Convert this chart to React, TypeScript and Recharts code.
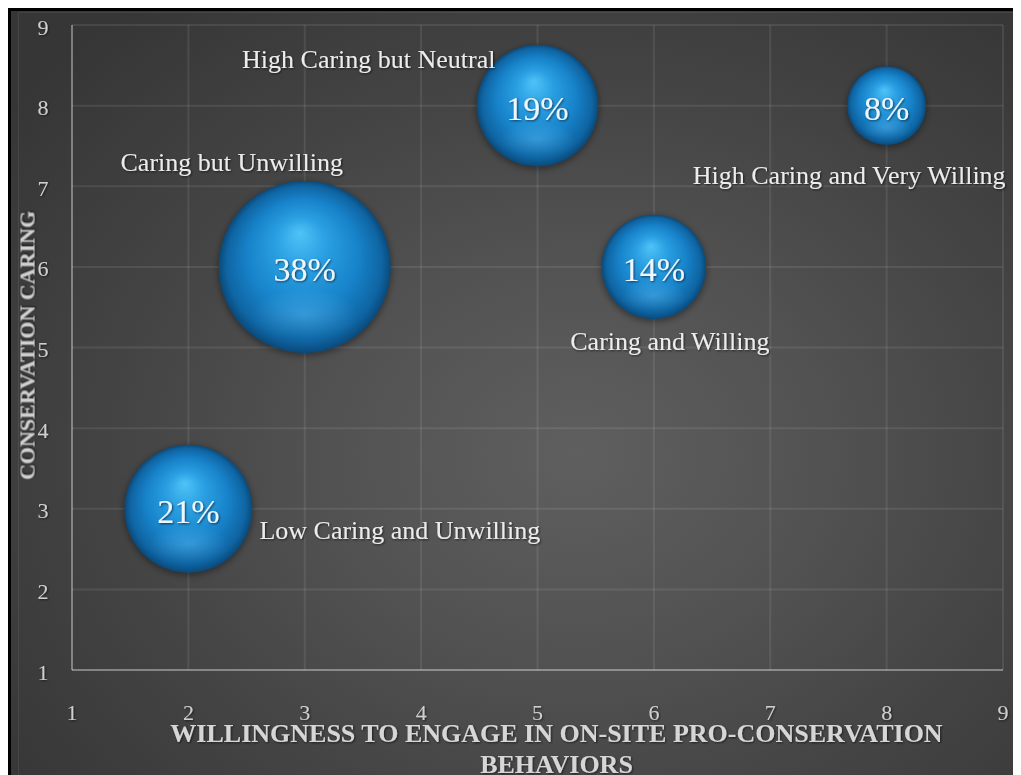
import React from 'react';
import { ScatterChart, Scatter, XAxis, YAxis, ZAxis, CartesianGrid, Label } from 'recharts';

const categories = [
  'Low Caring and Unwilling',
  'Caring but Unwilling',
  'High Caring but Neutral',
  'Caring and Willing',
  'High Caring and Very Willing',
];
const willingness = [2, 3, 5, 6, 8];
const caring = [3, 6, 8, 6, 8];
const shares = [21, 38, 19, 14, 8];
const xTicks = [1, 2, 3, 4, 5, 6, 7, 8, 9];
const yTicks = [1, 2, 3, 4, 5, 6, 7, 8, 9];
const xTitleLines = ['WILLINGNESS TO ENGAGE IN ON-SITE PRO-CONSERVATION', 'BEHAVIORS'];
const yTitle = 'CONSERVATION CARING';

const data = categories.map((name, i) => ({
  name,
  x: willingness[i],
  y: caring[i],
  pct: shares[i],
}));

// label placement (style), keyed by category
const labelPlacement: Record<string, { anchor: 'start' | 'middle' | 'end'; dx: number; dy: number }> = {
  'Low Caring and Unwilling': { anchor: 'start', dx: 71, dy: 22 },
  'Caring but Unwilling': { anchor: 'middle', dx: -73, dy: -104 },
  'High Caring but Neutral': { anchor: 'end', dx: -42, dy: -46 },
  'Caring and Willing': { anchor: 'middle', dx: 16, dy: 75 },
  'High Caring and Very Willing': { anchor: 'end', dx: 119, dy: 70 },
};

const SERIF = '"Liberation Serif", "Times New Roman", serif';
const MAX_R = 86;

const Bubble = (props: any) => {
  const { cx, cy, payload } = props;
  if (cx == null || cy == null) return null;
  const r = props.width ? props.width / 2 : Math.sqrt(Math.max(props.size || 0, 0) / Math.PI);
  const place = labelPlacement[payload.name];
  return (
    <g>
      <circle cx={cx} cy={cy + 2} r={r + 1} fill="rgba(0,0,0,0.35)" filter="url(#blurShadow)" />
      <circle cx={cx} cy={cy} r={r} fill="url(#sphereGrad)" />
      <ellipse cx={cx} cy={cy + r * 0.55} rx={r * 0.62} ry={r * 0.3} fill="url(#reflectGrad)" />
      <text
        x={cx}
        y={cy + 3}
        textAnchor="middle"
        dominantBaseline="central"
        fontFamily={SERIF}
        fontSize={34}
        fill="#eef6ff"
        filter="url(#textShadow)"
      >
        {payload.pct}%
      </text>
      {place && (
        <text
          x={cx + place.dx}
          y={cy + place.dy}
          textAnchor={place.anchor}
          dominantBaseline="central"
          fontFamily={SERIF}
          fontSize={26}
          fill="#ececec"
          filter="url(#textShadow)"
        >
          {payload.name}
        </text>
      )}
    </g>
  );
};

const XTick = (props: any) => {
  const { x, y, payload } = props;
  return (
    <text x={x} y={y + 34} textAnchor="middle" dominantBaseline="central" fontFamily={SERIF} fontSize={22} fill="#cfcfcf" filter="url(#textShadow)">
      {payload.value}
    </text>
  );
};

const YTick = (props: any) => {
  const { x, y, payload } = props;
  return (
    <text x={x - 21} y={y + 2} textAnchor="middle" dominantBaseline="central" fontFamily={SERIF} fontSize={22} fill="#cfcfcf" filter="url(#textShadow)">
      {payload.value}
    </text>
  );
};

const XTitle = (props: any) => {
  const vb = props.viewBox || { x: 61, y: 659, width: 931, height: 105 };
  const cx = vb.x + vb.width / 2 + 19;
  return (
    <g>
      {xTitleLines.map((line, i) => (
        <text
          key={i}
          x={cx}
          y={vb.y + 63 + i * 31}
          textAnchor="middle"
          dominantBaseline="central"
          fontFamily={SERIF}
          fontWeight="bold"
          fontSize={26}
          fill="#d6d6d6"
          filter="url(#textShadow)"
        >
          {line}
        </text>
      ))}
    </g>
  );
};

const YTitle = (props: any) => {
  const vb = props.viewBox || { x: 0, y: 14, width: 61, height: 645 };
  const cx = 16;
  const cy = vb.y + vb.height / 2 - 2;
  return (
    <text
      x={cx}
      y={cy}
      transform={`rotate(-90 ${cx} ${cy})`}
      textAnchor="middle"
      dominantBaseline="central"
      fontFamily={SERIF}
      fontWeight="bold"
      fontSize={22}
      fill="#d0d0d0"
      filter="url(#textShadow)"
    >
      {yTitle}
    </text>
  );
};

export default function App() {
  return (
    <div style={{ position: 'relative', width: 1010, height: 764, borderLeft: '3px solid #000', borderTop: '3px solid #000', background: 'radial-gradient(ellipse 70% 75% at 56% 58%, #5f5f5f 0%, #525252 35%, #444 65%, #363636 100%)', overflow: 'hidden' }}>
      <svg width={0} height={0} style={{ position: 'absolute' }}>
        <defs>
          <radialGradient id="sphereGrad" cx="50%" cy="50%" r="50%" fx="47%" fy="30%">
            <stop offset="0%" stopColor="#4fc3f7" />
            <stop offset="30%" stopColor="#2a9fe2" />
            <stop offset="65%" stopColor="#1782c9" />
            <stop offset="90%" stopColor="#0f65a3" />
            <stop offset="100%" stopColor="#0a4a7b" />
          </radialGradient>
          <radialGradient id="reflectGrad" cx="50%" cy="50%" r="50%">
            <stop offset="0%" stopColor="#7fd2ff" stopOpacity={0.3} />
            <stop offset="100%" stopColor="#7fd2ff" stopOpacity={0} />
          </radialGradient>
          <filter id="textShadow" x="-10%" y="-30%" width="120%" height="160%">
            <feDropShadow dx="1" dy="1" stdDeviation="1" floodColor="#000" floodOpacity="0.6" />
          </filter>
          <filter id="blurShadow" x="-30%" y="-30%" width="160%" height="160%">
            <feGaussianBlur stdDeviation="3" />
          </filter>
        </defs>
      </svg>
      <div style={{ position: 'absolute', left: 7, top: 1, right: -2, bottom: -2, border: '1px solid rgba(255,255,255,0.07)' }} />
      <div style={{ position: 'absolute', left: 0, top: 0 }}>
        <ScatterChart width={1010} height={764} margin={{ top: 14, right: 18, bottom: 0, left: 0 }}>
          <CartesianGrid stroke="rgba(255,255,255,0.085)" strokeWidth={2} />
          <XAxis
            type="number"
            dataKey="x"
            domain={[1, 9]}
            ticks={xTicks}
            height={105}
            tickLine={false}
            axisLine={{ stroke: 'rgba(255,255,255,0.3)', strokeWidth: 2 }}
            tick={<XTick />}
            interval={0}
          >
            <Label content={<XTitle />} />
          </XAxis>
          <YAxis
            type="number"
            dataKey="y"
            domain={[1, 9]}
            ticks={yTicks}
            width={61}
            tickLine={false}
            axisLine={{ stroke: 'rgba(255,255,255,0.3)', strokeWidth: 2 }}
            tick={<YTick />}
            interval={0}
          >
            <Label content={<YTitle />} />
          </YAxis>
          <ZAxis type="number" dataKey="pct" domain={[0, 38]} range={[0, Math.PI * MAX_R * MAX_R]} />
          <Scatter data={data} shape={<Bubble />} isAnimationActive={false} />
        </ScatterChart>
      </div>
    </div>
  );
}
